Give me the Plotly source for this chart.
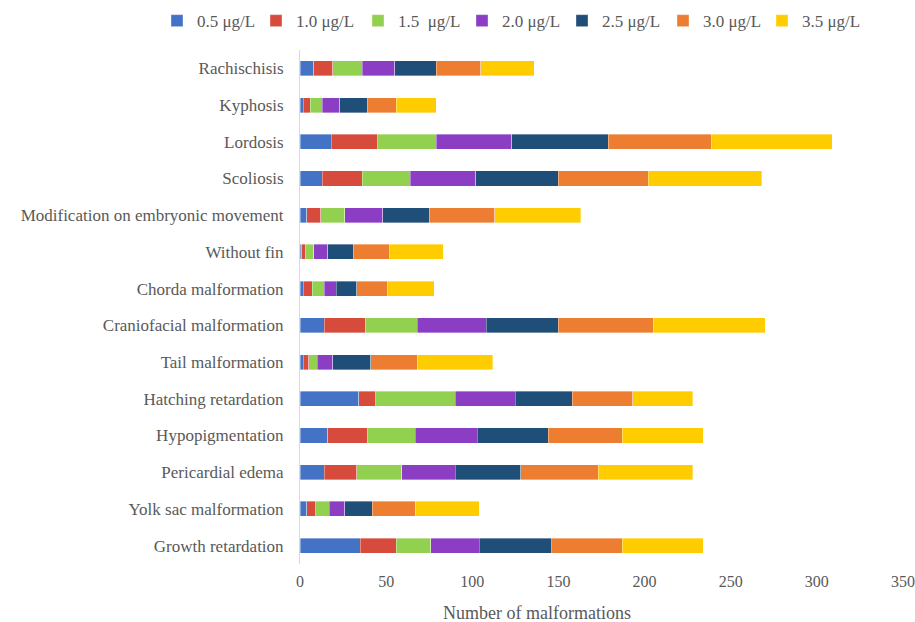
import plotly.graph_objects as go

categories = ["Rachischisis", "Kyphosis", "Lordosis", "Scoliosis",
              "Modification on embryonic movement", "Without fin",
              "Chorda malformation", "Craniofacial malformation",
              "Tail malformation", "Hatching retardation", "Hypopigmentation",
              "Pericardial edema", "Yolk sac malformation", "Growth retardation"]

series_names = ["0.5 μg/L", "1.0 μg/L", "1.5  μg/L", "2.0 μg/L",
                "2.5 μg/L", "3.0 μg/L", "3.5 μg/L"]

v05 = [8, 2, 18, 13, 4, 1, 2, 14, 2, 34, 16, 14, 4, 35]
v10 = [11, 4, 27, 23, 8, 2, 5, 24, 3, 10, 23, 19, 5, 21]
v15 = [17, 7, 34, 28, 14, 5, 7, 30, 5, 46, 28, 26, 8, 20]
v20 = [19, 10, 44, 38, 22, 8, 7, 40, 9, 35, 36, 31, 9, 28]
v25 = [24, 16, 56, 48, 27, 15, 12, 42, 22, 33, 41, 38, 16, 42]
v30 = [26, 17, 60, 52, 38, 21, 18, 55, 27, 35, 43, 45, 25, 41]
v35 = [31, 23, 70, 66, 50, 31, 27, 65, 44, 35, 47, 55, 37, 47]

series_values = [v05, v10, v15, v20, v25, v30, v35]
colors = ["#4472C4", "#D64B3B", "#92D050", "#8B3DC4", "#1F4E79", "#ED7D31", "#FFCC00"]

x_ticks = [0, 50, 100, 150, 200, 250, 300, 350]

font_family = "Liberation Serif, Times New Roman, serif"
text_color = "#595959"

# legend entry left positions (pixels) in the 915 px wide page
legend_px = [157, 256, 358, 462, 562, 663, 762]

fig = go.Figure()
legend_layout = {}
for i, (name, vals, col) in enumerate(zip(series_names, series_values, colors)):
    lname = "legend" if i == 0 else f"legend{i + 1}"
    fig.add_trace(go.Bar(
        y=categories, x=vals, name=name, orientation="h",
        marker=dict(color=col, line=dict(color="rgba(255,255,255,0.6)", width=0.6)),
        legend=lname,
    ))
    legend_layout[lname] = dict(
        orientation="h", x=legend_px[i] / 915, xanchor="left", xref="container",
        y=0.995, yanchor="top", yref="container",
        font=dict(size=17, color=text_color, family=font_family),
        itemclick=False, bgcolor="rgba(0,0,0,0)",
    )

fig.update_layout(
    barmode="stack",
    bargap=0.59,
    width=915, height=622,
    margin=dict(l=300, r=12, t=50, b=58, autoexpand=False),
    plot_bgcolor="white", paper_bgcolor="white",
    font=dict(family=font_family, color=text_color, size=17),
    showlegend=True,
    **legend_layout,
)
fig.update_yaxes(autorange="reversed", showline=True, linecolor="#D9D9D9", linewidth=1,
                 showgrid=False, ticks="", ticklabelstandoff=12,
                 tickfont=dict(size=17, color=text_color, family=font_family))
fig.update_xaxes(range=[0, 350], tickvals=x_ticks, showgrid=False, zeroline=False,
                 showline=False, ticks="", ticklabelstandoff=6,
                 tickfont=dict(size=16, color=text_color, family=font_family))
fig.add_annotation(text="Number of malformations", xref="paper", yref="paper",
                   x=(537 - 300) / 603, y=-0.072, xanchor="center", yanchor="top",
                   showarrow=False, font=dict(size=18, color=text_color, family=font_family))

fig.write_html("out.html")
